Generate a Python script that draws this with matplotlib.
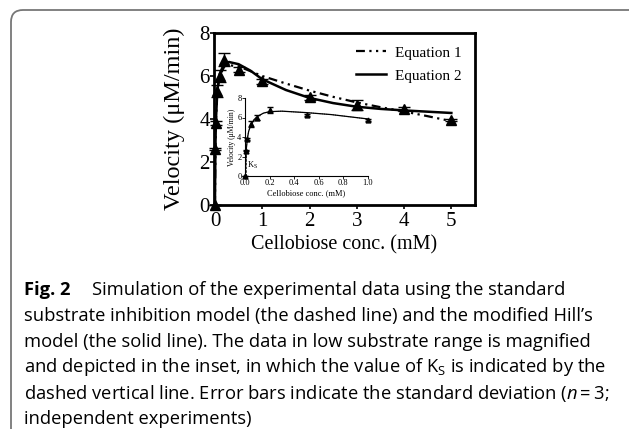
import matplotlib.pyplot as plt
from matplotlib.patches import FancyBboxPatch

# measured points (mM, uM/min)
conc = [0, 0.01, 0.02, 0.05, 0.1, 0.2, 0.5, 1, 2, 3, 4, 5]
vel = [0, 2.6, 3.8, 5.3, 6.0, 6.75, 6.3, 5.75, 5.0, 4.65, 4.45, 3.97]
err = [0, 0.05, 0.1, 0.3, 0.3, 0.3, 0.1, 0.1, 0.1, 0.22, 0.1, 0.05]

# fitted curves
eq1_x = [0, 0.01, 0.02, 0.05, 0.1, 0.2, 0.3, 0.5, 1, 1.5, 2, 2.5, 3, 3.5, 4, 4.5, 5]
eq1_y = [0, 2.6, 3.8, 5.3, 6.0, 6.45, 6.5, 6.45, 6.0, 5.65, 5.32, 5.03, 4.77, 4.55, 4.35, 4.13, 3.9]
eq2_x = [0, 0.01, 0.02, 0.05, 0.1, 0.2, 0.3, 0.5, 0.75, 1, 1.5, 2, 2.5, 3, 3.5, 4, 4.5, 5]
eq2_y = [0, 2.7, 3.9, 5.3, 6.1, 6.6, 6.65, 6.55, 6.25, 5.85, 5.35, 4.98, 4.74, 4.57, 4.47, 4.4, 4.34, 4.28]

# inset (low substrate range)
ins_x = [0, 0.005, 0.01, 0.02, 0.03, 0.05, 0.075, 0.1, 0.15, 0.2, 0.3, 0.5, 0.7, 0.9, 1.0]
ins_y = [0, 1.5, 2.7, 3.9, 4.6, 5.3, 5.8, 6.1, 6.45, 6.6, 6.65, 6.5, 6.3, 6.0, 5.85]
ks = 0.012

caption = [
    "substrate inhibition model (the dashed line) and the modified Hill\u2019s",
    "model (the solid line). The data in low substrate range is magnified",
    "and depicted in the inset, in which the value of $\\mathregular{K_S}$ is indicated by the",
    "dashed vertical line. Error bars indicate the standard deviation ($\\mathit{n}$\u2009=\u20093;",
    "independent experiments)",
]

plt.rcParams['mathtext.fontset'] = 'custom'
plt.rcParams['mathtext.rm'] = 'Open Sans'
plt.rcParams['mathtext.it'] = 'Open Sans:italic'

W, H = 629, 429
fig = plt.figure(figsize=(W / 100, H / 100), dpi=100)
serif = 'Liberation Serif'

ax = fig.add_axes([214 / W, 1 - 205 / H, 261 / W, 172 / H])
ax.plot(eq1_x, eq1_y, color='black', lw=1.6, ls=(0, (4, 2, 1, 2, 1, 2)), label='Equation 1')
ax.plot(eq2_x, eq2_y, color='black', lw=1.8, label='Equation 2')
ax.errorbar(conc, vel, yerr=err, fmt='^', color='black', ms=7, capsize=4,
            elinewidth=1, clip_on=False, zorder=5)
ax.set_xlim(-0.02, 5.5)
ax.set_ylim(0, 8)
ax.set_xticks([0, 1, 2, 3, 4, 5])
ax.set_yticks([0, 2, 4, 6, 8])
for s in ax.spines.values():
    s.set_linewidth(2)
ax.tick_params(direction='out', length=3, width=1.2, labelsize=15)
ax.tick_params(axis='x', pad=2)
ax.tick_params(axis='y', pad=0)
for lab in ax.get_xticklabels() + ax.get_yticklabels():
    lab.set_family(serif)
ax.set_xlabel('Cellobiose conc. (mM)', family=serif, fontsize=14.5, labelpad=3)
ax.set_ylabel('Velocity (\u03bcM/min)', family=serif, fontsize=17.5, labelpad=10)
ax.legend(loc='upper right', frameon=False, prop={'family': serif, 'size': 11},
          handlelength=2.0, borderaxespad=0.45, labelspacing=0.6, handletextpad=0.6)

# inset
ins = fig.add_axes([245 / W, 1 - 176 / H, 123 / W, 78 / H])
ins.patch.set_alpha(0)
ins.plot(ins_x, ins_y, color='black', lw=0.9)
ins.plot(ins_x, ins_y, color='black', lw=0.6, ls=':')
ins.errorbar(conc[:8], vel[:8], yerr=err[:8], fmt='^', color='black', ms=3.5,
             capsize=2, elinewidth=0.6, clip_on=False)
ins.plot([ks, ks], [0, 2.6], color='black', lw=0.5, ls='--')
ins.text(0.02, 0.8, 'K$_\\mathregular{S}$', family=serif, fontsize=6)
ins.set_xlim(0, 1.0)
ins.set_ylim(0, 8)
ins.set_xticks([0, 0.2, 0.4, 0.6, 0.8, 1.0])
ins.set_yticks([0, 2, 4, 6, 8])
ins.spines['top'].set_visible(False)
ins.spines['right'].set_visible(False)
for s in ins.spines.values():
    s.set_linewidth(0.8)
ins.tick_params(direction='out', length=2, width=0.6, labelsize=6, pad=0.5)
for lab in ins.get_xticklabels() + ins.get_yticklabels():
    lab.set_family(serif)
ins.set_xlabel('Cellobiose conc. (mM)', family=serif, fontsize=6, labelpad=1)
ins.set_ylabel('Velocity (\u03bcM/min)', family=serif, fontsize=5.5, labelpad=1)

# caption
cap_font = 'Open Sans'
cs = 13.2
top = 290
fig.text(24 / W, 1 - top / H, 'Fig. 2', family=cap_font, weight='bold',
         fontsize=cs, va='center')
fig.text(92 / W, 1 - top / H, 'Simulation of the experimental data using the standard',
         family=cap_font, fontsize=cs, va='center')
for i, line in enumerate(caption):
    fig.text(24 / W, 1 - (top + 25.8 * (i + 1)) / H, line, family=cap_font,
             fontsize=cs, va='center')

# rounded frame around the figure
frame = FancyBboxPatch((0.11, -0.5), 7.0, 4.69, boxstyle='round,pad=0,rounding_size=0.12',
                       transform=fig.dpi_scale_trans, fill=False,
                       edgecolor='#777777', lw=1.3)
fig.add_artist(frame)

fig.savefig('out.png', dpi=100)
